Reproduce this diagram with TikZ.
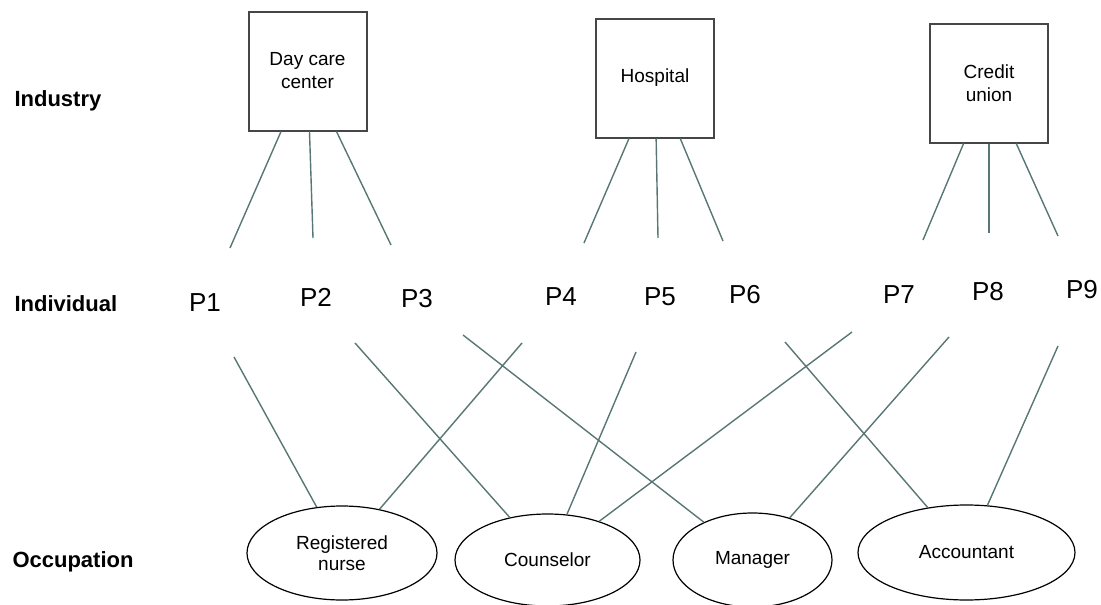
\documentclass[tikz,border=0pt]{standalone}
\usepackage{fontspec}
\setmainfont{Liberation Sans}
\usetikzlibrary{shapes.geometric}

\definecolor{linkgray}{RGB}{88,118,116}
\definecolor{boxgray}{RGB}{70,70,70}

\begin{document}
\begin{tikzpicture}[x=1pt, y=-1pt,
        industry/.style={draw=boxgray, line width=2pt, minimum width=118pt, minimum height=119pt, inner sep=0pt, align=center, font=\fontsize{19}{23}\selectfont},
        occupation/.style={ellipse, draw, line width=1.2pt, inner sep=0pt, align=center, font=\fontsize{19}{21}\selectfont},
        person/.style={font=\fontsize{26}{30}\selectfont},
        level/.style={anchor=base west, font=\bfseries\fontsize{22}{26}\selectfont},
        link/.style={draw=linkgray, line width=1.4pt}]
        \useasboundingbox (0,0) rectangle (1101,605);

        \node[level] (lind) at (11,106) {Industry};
        \node[level] (lper) at (11,311) {Individual};
        \node[level] (locc) at (9,567) {Occupation};

        \node[industry] (dc) at (307.5,71) {Day care\\center};
        \node[industry] (hosp) at (655,78) {Hospital};
        \node[industry] (cu) at (989,83) {Credit\\union};

        \node[person] (p1) at (205,303) {P1};
        \node[person] (p2) at (316,297) {P2};
        \node[person] (p3) at (417,299) {P3};
        \node[person] (p4) at (561,297) {P4};
        \node[person] (p5) at (660,297) {P5};
        \node[person] (p6) at (745,295) {P6};
        \node[person] (p7) at (899,295) {P7};
        \node[person] (p8) at (988,292) {P8};
        \node[person] (p9) at (1082,290) {P9};

        \node[occupation, minimum width=190pt, minimum height=94pt] (nurse) at (342,553) {Registered\\nurse};
        \node[occupation, minimum width=185pt, minimum height=92pt] (couns) at (547.5,560) {Counselor};
        \node[occupation, minimum width=159pt, minimum height=94pt] (mgr) at (752.5,560) {Manager};
        \node[occupation, minimum width=217pt, minimum height=95pt] (acct) at (966.5,552.5) {Accountant};

        % free ends above the individuals
        \coordinate (t1) at (230,248);
        \coordinate (t2) at (313,238);
        \coordinate (t3) at (391,245);
        \coordinate (t4) at (584,243);
        \coordinate (t5) at (658,238);
        \coordinate (t6) at (723,241);
        \coordinate (t7) at (923,240);
        \coordinate (t8) at (989,233);
        \coordinate (t9) at (1058,236);

        % free ends below the individuals
        \coordinate (b1) at (234,357);
        \coordinate (b2) at (355,343);
        \coordinate (b3) at (463,335);
        \coordinate (b4) at (522,343);
        \coordinate (b5) at (636,352);
        \coordinate (b6) at (785,342);
        \coordinate (b7) at (852,332);
        \coordinate (b8) at (949,337);
        \coordinate (b9) at (1058,346);

        \draw[link]
        (t1) edge (dc)
        (t2) edge (dc)
        (t3) edge (dc)
        (t4) edge (hosp)
        (t5) edge (hosp)
        (t6) edge (hosp)
        (t7) edge (cu)
        (t8) edge (cu)
        (t9) edge (cu);

        \draw[link]
        (b1) edge (nurse)
        (b2) edge (couns)
        (b3) edge (mgr)
        (b4) edge (nurse)
        (b5) edge (couns)
        (b6) edge (acct)
        (b7) edge (couns)
        (b8) edge (mgr)
        (b9) edge (acct);
      \end{tikzpicture}
\end{document}
